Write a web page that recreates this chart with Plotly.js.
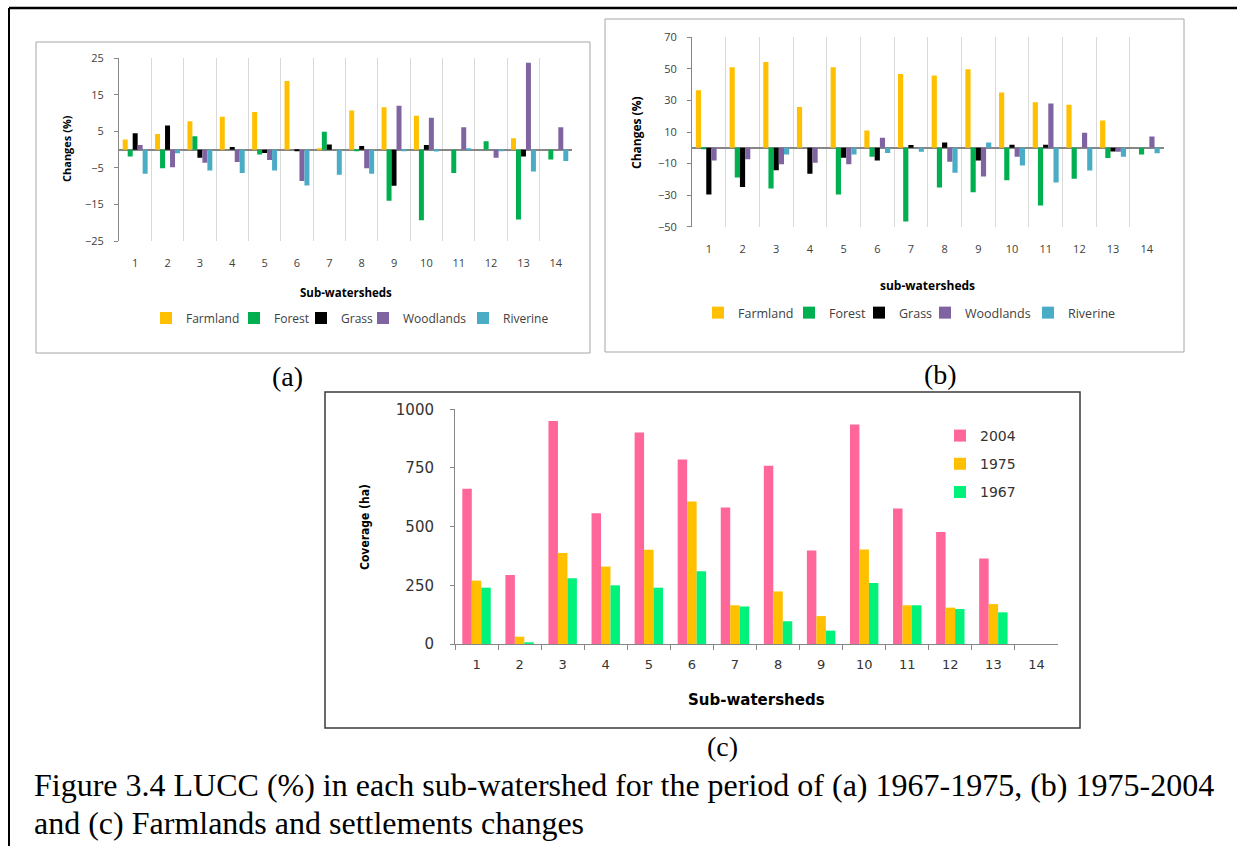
<!DOCTYPE html>
<html><head><meta charset="utf-8">
<script src="https://cdn.plot.ly/plotly-3.0.1.min.js"></script>
<style>html,body{margin:0;padding:0;background:#fff;overflow:hidden;} #chart{width:1237px;height:846px;}</style>
</head><body><div id="chart"></div>
<script>
// ---------- data ----------
const subWatersheds = ['1','2','3','4','5','6','7','8','9','10','11','12','13','14'];

// (a) 1967-1975 changes (%)
const farmlandA  = [2.8, 4.3, 7.8, 9.0, 10.3, 18.8, 0.4, 10.7, 11.6, 9.3, 0, 0, 3.1, 0];
const forestA    = [-1.9, -5.1, 3.7, 0, -1.3, 0, 4.9, -0.4, -14.0, -19.3, -6.4, 2.3, -19.1, -2.7];
const grassA     = [4.5, 6.6, -2.2, 0.7, -0.9, -0.4, 1.4, 1.0, -9.9, 1.3, 0, 0, -1.9, 0];
const woodlandsA = [1.3, -4.8, -3.6, -3.4, -2.8, -8.6, 0, -5.1, 12.0, 8.7, 6.1, -2.2, 23.8, 6.1];
const riverineA  = [-6.6, -1.0, -5.7, -6.4, -5.7, -9.8, -6.9, -6.6, -0.3, -0.5, 0.4, -0.4, -6.0, -3.1];
const ticksA = [-25, -15, -5, 5, 15, 25];

// (b) 1975-2004 changes (%)
const farmlandB  = [36.5, 51.1, 54.3, 25.8, 51.1, 11.0, 46.7, 45.8, 49.7, 35.1, 28.9, 27.3, 17.3, 0];
const forestB    = [-1.0, -18.8, -25.8, 0, -29.6, -5.7, -46.7, -25.1, -28.1, -20.5, -36.6, -19.6, -6.5, -4.2];
const grassB     = [-29.6, -24.9, -14.2, -16.5, -6.3, -8.0, 1.7, 3.4, -8.0, 1.9, 1.9, 0, -2.3, 0];
const woodlandsB = [-8.0, -7.2, -10.4, -9.5, -10.4, 6.3, 0, -8.9, -18.2, -5.7, 28.1, 9.5, -2.5, 7.2];
const riverineB  = [0, 0, -4.2, 0, -4.2, -3.3, -2.5, -15.8, 3.4, -11.2, -22.0, -14.4, -5.7, -3.4];
const ticksB = [-50, -30, -10, 10, 30, 50, 70];

// (c) Farmland & settlement coverage (ha)
const cover2004 = [662, 294, 950, 557, 901, 786, 582, 760, 398, 935, 577, 477, 364, null];
const cover1975 = [270, 31, 388, 330, 402, 607, 165, 224, 119, 403, 165, 155, 170, null];
const cover1967 = [240, 7, 280, 250, 240, 310, 160, 97, 57, 260, 165, 149, 135, null];
const ticksC = [0, 250, 500, 750, 1000];

const classNames = ['Farmland', 'Forest', 'Grass', 'Woodlands', 'Riverine'];
const classColors = ['#FFC000', '#00B050', '#000000', '#8064A2', '#4BACC6'];
const yearNames = ['2004', '1975', '1967'];
const yearColors = ['#FF6699', '#FFC000', '#00F27A'];

// ---------- helpers ----------
const W = 1237, H = 846;
const px = x => x / W;
const py = y => 1 - y / H;

const seriesA = [farmlandA, forestA, grassA, woodlandsA, riverineA];
const seriesB = [farmlandB, forestB, grassB, woodlandsB, riverineB];
const legWA = [43, 22, 17, 55, 50];
const legWB = [46, 25, 21, 58, 52];

const traces = [];
seriesA.forEach((vals, i) => traces.push({
  type: 'bar', x: subWatersheds, y: vals, name: classNames[i],
  marker: {color: classColors[i]}, xaxis: 'x', yaxis: 'y', legend: 'legend',
  legendwidth: legWA[i], hoverinfo: 'x+y+name'
}));
seriesB.forEach((vals, i) => traces.push({
  type: 'bar', x: subWatersheds, y: vals, name: classNames[i],
  marker: {color: classColors[i]}, xaxis: 'x2', yaxis: 'y2', legend: 'legend2',
  legendwidth: legWB[i], hoverinfo: 'x+y+name'
}));
const seriesC = [cover2004, cover1975, cover1967];
const offsC = [-0.33, -0.11, 0.11];
seriesC.forEach((vals, i) => traces.push({
  type: 'bar', x: subWatersheds, y: vals, name: yearNames[i],
  marker: {color: yearColors[i]}, xaxis: 'x3', yaxis: 'y3', legend: 'legend3',
  legendgroup: 'c' + i, width: 0.22, offset: offsC[i], hoverinfo: 'x+y+name'
}));

const gray = '#868686';
const tickFontAB = {family: 'Open Sans', size: 11, color: '#404040'};
const tickFontC = {family: 'DejaVu Sans', size: 13, color: '#333333'};

function catAxis(dom, anchor, grid, font, standoff) {
  return {
    domain: dom, anchor: anchor, type: 'category', tickson: 'boundaries',
    showgrid: grid, gridcolor: '#d9d9d9', gridwidth: 1,
    ticks: grid ? '' : 'outside', ticklen: 5, tickcolor: gray,
    showline: !grid, linecolor: gray, linewidth: 1, zeroline: false,
    tickfont: font, ticklabelstandoff: standoff, fixedrange: true
  };
}
function valAxis(dom, anchor, range, tv, font, standoff, zl) {
  return {
    domain: dom, anchor: anchor, range: range, tickvals: tv,
    showline: true, linecolor: gray, linewidth: 1, ticks: 'outside', ticklen: 4, tickcolor: gray,
    showgrid: false, zeroline: zl, zerolinecolor: gray, zerolinewidth: 1.5,
    tickfont: font, ticklabelstandoff: standoff, fixedrange: true
  };
}

const boldAB = s => ({family: 'Open Sans', size: s, color: '#000', weight: 'bold'});
function ann(text, x, y, font, extra) {
  return Object.assign({text: text, x: px(x), y: py(y), xref: 'paper', yref: 'paper',
    xanchor: 'center', yanchor: 'middle', showarrow: false, font: font}, extra || {});
}
const serif = s => ({family: 'Liberation Serif', size: s, color: '#000'});

const layout = {
  width: W, height: H, margin: {l: 0, r: 0, t: 0, b: 0},
  paper_bgcolor: '#fff', plot_bgcolor: 'rgba(0,0,0,0)',
  barmode: 'group', bargap: 0.23, bargroupgap: 0,
  hovermode: 'closest',
  xaxis:  catAxis([px(119), px(572)], 'y', true, tickFontAB, 14),
  yaxis:  valAxis([py(241), py(58.3)], 'x', [-25, 25], ticksA, tickFontAB, 8, true),
  xaxis2: catAxis([px(692), px(1163.6)], 'y2', true, tickFontAB, 14),
  yaxis2: valAxis([py(226.7), py(37.3)], 'x2', [-50, 70], ticksB, tickFontAB, 8, true),
  xaxis3: catAxis([px(455), px(1058)], 'y3', false, tickFontC, 8),
  yaxis3: valAxis([py(644), py(409.3)], 'x3', [0, 1000], ticksC, {family: 'DejaVu Sans', size: 15, color: '#333333'}, 13, false),
  legend:  {orientation: 'h', x: px(146), xanchor: 'left', y: py(318), yanchor: 'middle',
            font: {family: 'Open Sans', size: 12, color: '#404040'}, bgcolor: 'rgba(0,0,0,0)', traceorder: 'normal'},
  legend2: {orientation: 'h', x: px(698), xanchor: 'left', y: py(313), yanchor: 'middle',
            font: {family: 'Open Sans', size: 12.5, color: '#404040'}, bgcolor: 'rgba(0,0,0,0)', traceorder: 'normal'},
  legend3: {orientation: 'v', x: px(940), xanchor: 'left', y: py(420), yanchor: 'top', tracegroupgap: 7,
            font: {family: 'DejaVu Sans', size: 14, color: '#333333'}, bgcolor: 'rgba(0,0,0,0)', traceorder: 'grouped'},
  shapes: [
    {type: 'line', xref: 'paper', yref: 'paper', x0: px(9), x1: px(1237), y0: py(8), y1: py(8), line: {color: '#000', width: 2.5}},
    {type: 'line', xref: 'paper', yref: 'paper', x0: px(9), x1: px(9), y0: py(8), y1: py(846), line: {color: '#000', width: 2}},
    {type: 'rect', xref: 'paper', yref: 'paper', x0: px(36), x1: px(590), y0: py(42), y1: py(353), line: {color: '#A6A6A6', width: 1}},
    {type: 'rect', xref: 'paper', yref: 'paper', x0: px(605), x1: px(1184), y0: py(19), y1: py(352), line: {color: '#A6A6A6', width: 1}},
    {type: 'rect', xref: 'paper', yref: 'paper', x0: px(325), x1: px(1080), y0: py(392), y1: py(728), line: {color: '#3a3a3a', width: 1.5}}
  ],
  annotations: [
    ann('Changes (%)', 67, 149, boldAB(11), {textangle: -90}),
    ann('Sub-watersheds', 346, 292, boldAB(11.5)),
    ann('Changes (%)', 636, 132, boldAB(12), {textangle: -90}),
    ann('sub-watersheds', 927, 285, boldAB(12)),
    ann('Coverage (ha)', 365, 527, {family: 'DejaVu Sans Condensed', size: 12, color: '#000', weight: 'bold'}, {textangle: -90}),
    ann('Sub-watersheds', 756, 700, {family: 'DejaVu Sans', size: 15, color: '#000', weight: 'bold'}),
    ann('(a)', 287, 376, serif(28)),
    ann('(b)', 940, 375, serif(28)),
    ann('(c)', 722, 746, serif(28)),
    ann('Figure 3.4 LUCC (%) in each sub-watershed for the period of (a) 1967-1975, (b) 1975-2004', 32, 785, serif(32), {xanchor: 'left'}),
    ann('and (c) Farmlands and settlements changes', 32, 823, serif(32), {xanchor: 'left'})
  ]
};

Plotly.newPlot('chart', traces, layout, {displayModeBar: false});
</script>
</body></html>
